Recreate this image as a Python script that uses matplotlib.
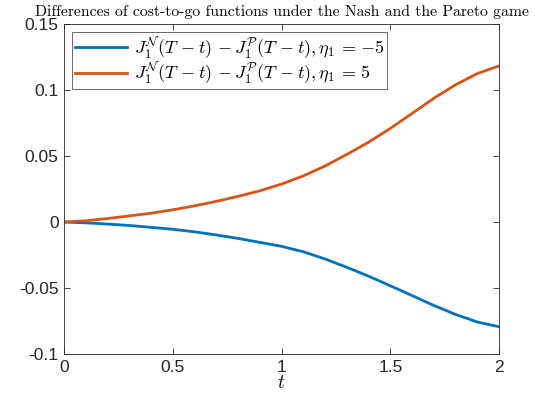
import matplotlib.pyplot as plt
import numpy as np

plt.rcParams['mathtext.fontset'] = 'cm'
plt.rcParams['font.family'] = ['Liberation Sans', 'DejaVu Sans']

# time grid and curves
t = [0.0, 0.1, 0.2, 0.3, 0.4, 0.5, 0.6, 0.7, 0.8, 0.9, 1.0,
     1.1, 1.2, 1.3, 1.4, 1.5, 1.6, 1.7, 1.8, 1.9, 2.0]
diff_neg = [0.0, -0.0006, -0.0015, -0.0026, -0.0040, -0.0055, -0.0074,
            -0.0098, -0.0124, -0.0154, -0.0184, -0.0225, -0.0280, -0.0343,
            -0.0410, -0.0483, -0.0557, -0.0632, -0.0700, -0.0757, -0.0793]
diff_pos = [0.0, 0.0010, 0.0027, 0.0047, 0.0067, 0.0093, 0.0123, 0.0157,
            0.0195, 0.0237, 0.0288, 0.0350, 0.0425, 0.0513, 0.0605, 0.0710,
            0.0823, 0.0938, 0.1040, 0.1125, 0.1183]
xticks = [0, 0.5, 1, 1.5, 2]
xtick_labels = ['0', '0.5', '1', '1.5', '2']
yticks = [-0.1, -0.05, 0, 0.05, 0.1, 0.15]
ytick_labels = ['-0.1', '-0.05', '0', '0.05', '0.1', '0.15']

fig = plt.figure(figsize=(5.35, 4.07), dpi=100)
ax = fig.add_axes([0.120, 0.130, 0.813, 0.811])

ax.plot(t, diff_neg, color=(0, 0.447, 0.741), lw=2, solid_joinstyle='round',
        label=r'$J_1^{\mathcal{N}}(T\/-t)\/-J_1^{\mathcal{P}}(T\/-t),\eta_1\,=\,{-5}$')
ax.plot(t, diff_pos, color=(0.85, 0.325, 0.098), lw=2, solid_joinstyle='round',
        label=r'$J_1^{\mathcal{N}}(T\/-t)\/-J_1^{\mathcal{P}}(T\/-t),\eta_1\,=\,5$')

ax.set_xlim(0, 2)
ax.set_ylim(-0.1, 0.15)
ax.set_xticks(xticks)
ax.set_xticklabels(xtick_labels)
ax.set_yticks(yticks)
ax.set_yticklabels(ytick_labels)
ax.tick_params(direction='in', length=4, width=0.6, top=True, right=True,
               labelsize=12.5, colors=(0.15, 0.15, 0.15), pad=4)
for s in ax.spines.values():
    s.set_color((0.15, 0.15, 0.15))
    s.set_linewidth(0.6)

ax.set_xlabel(r'$t$', fontsize=14, labelpad=0)
ax.set_title('Differences of cost-to-go functions under the Nash and the Pareto game',
             fontfamily='cmr10', fontsize=11.3, pad=5.5)

leg = ax.legend(loc='upper left', fontsize=13, frameon=True, fancybox=False,
                edgecolor=(0.15, 0.15, 0.15), handlelength=2.9, handletextpad=0.35,
                borderpad=0.15, labelspacing=0.0, borderaxespad=0.45)
leg.get_frame().set_linewidth(0.6)

fig.savefig('out.png', dpi=100)
